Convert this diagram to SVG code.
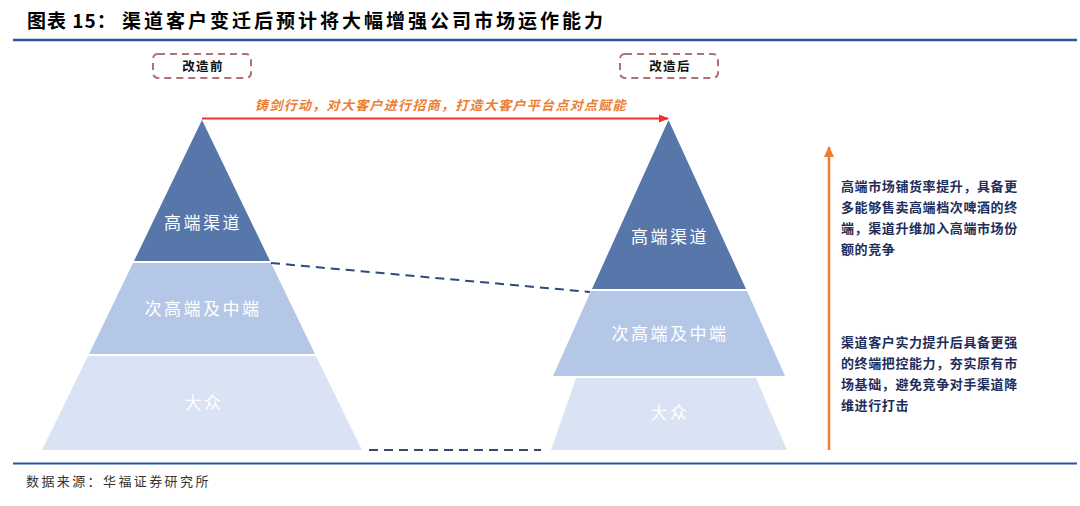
<svg xmlns="http://www.w3.org/2000/svg" width="1080" height="506" viewBox="0 0 1080 506">
<style>
.title{font-family:"Noto Sans CJK SC","Liberation Sans",sans-serif;font-weight:bold;font-size:19px;fill:#000}
.lbl{font-family:"Noto Sans CJK SC",sans-serif;font-size:17px;fill:#fff;text-anchor:middle;letter-spacing:2.5px}
.tag{font-family:"Noto Sans CJK SC",sans-serif;font-weight:bold;font-size:12.5px;fill:#111;text-anchor:middle;letter-spacing:1.4px}
.note{font-family:"Noto Sans CJK SC",sans-serif;font-weight:bold;font-size:13px;fill:#1f2d5a;letter-spacing:0.6px}
.src{font-family:"Noto Sans CJK SC",sans-serif;font-size:13px;fill:#333;letter-spacing:2.4px}
.box{fill:none;stroke:#b07272;stroke-width:2;stroke-dasharray:7 5}
.dash{fill:none;stroke:#2f4a7f;stroke-width:2;stroke-dasharray:9 6}
.t1{fill:#5776a9}.t2{fill:#b4c7e6}.t3{fill:#dae3f3}
</style>
<defs>
<marker id="redHead" markerWidth="10" markerHeight="10" refX="9" refY="5" orient="auto" markerUnits="userSpaceOnUse">
<path d="M0,1 L10,5 L0,9 Z" fill="#f03030"/>
</marker>
<marker id="orHead" markerWidth="12" markerHeight="12" refX="10" refY="6" orient="auto" markerUnits="userSpaceOnUse">
<path d="M0,1 L11,6 L0,11 Z" fill="#ed7d31"/>
</marker>
</defs>
<rect width="1080" height="506" fill="#fff"/>
<g id="header">
<text class="title" x="27" y="28" letter-spacing="1">图表 15：</text>
<text class="title" x="122" y="28" letter-spacing="3">渠道客户变迁后预计将大幅增强公司市场运作能力</text>
<line x1="13" y1="40" x2="1077" y2="40" stroke="#2356a0" stroke-width="2.5"/>
</g>
<g id="tag-before">
<rect class="box" x="153" y="54" width="98" height="24" rx="5"/>
<text class="tag" x="203" y="71">改造前</text>
</g>
<g id="tag-after">
<rect class="box" x="620" y="54" width="98" height="24" rx="5"/>
<text class="tag" x="670" y="71">改造后</text>
</g>
<g id="left-top">
<polygon class="t1" points="202,120 270,261 134,261"/>
<text class="lbl" x="203" y="229">高端渠道</text>
</g>
<g id="left-mid">
<polygon class="t2" points="133,263 271,263 315,354 89,354"/>
<text class="lbl" x="203" y="315">次高端及中端</text>
</g>
<g id="left-bottom">
<polygon class="t3" points="88,356 316,356 362,450 42,450"/>
<text class="lbl" x="204" y="409">大众</text>
</g>
<g id="right-top">
<polygon class="t1" points="668.5,120 746,289 592,289"/>
<text class="lbl" x="670" y="243">高端渠道</text>
</g>
<g id="right-mid">
<polygon class="t2" points="591,291 747,291 785,376 553,376"/>
<text class="lbl" x="670" y="340">次高端及中端</text>
</g>
<g id="right-bottom">
<polygon class="t3" points="576,378 756,378 787,450 551,450"/>
<text class="lbl" x="670" y="419">大众</text>
</g>
<g id="note-top">
<text class="note" x="841" y="191">高端市场铺货率提升，具备更</text>
<text class="note" x="841" y="212">多能够售卖高端档次啤酒的终</text>
<text class="note" x="841" y="233">端，渠道升维加入高端市场份</text>
<text class="note" x="841" y="254">额的竞争</text>
</g>
<g id="note-bottom">
<text class="note" x="841" y="347">渠道客户实力提升后具备更强</text>
<text class="note" x="841" y="368">的终端把控能力，夯实原有市</text>
<text class="note" x="841" y="389">场基础，避免竞争对手渠道降</text>
<text class="note" x="841" y="410">维进行打击</text>
</g>
<g id="connectors">
<line x1="202" y1="118.5" x2="668" y2="118.5" stroke="#f03030" stroke-width="2" marker-end="url(#redHead)"/>
<text x="441" y="110" text-anchor="middle" font-family="Noto Sans CJK SC, sans-serif" font-size="13" font-weight="bold" font-style="italic" fill="#ed7d31" letter-spacing="1.3">铸剑行动，对大客户进行招商，打造大客户平台点对点赋能</text>
<line class="dash" x1="271" y1="263" x2="590" y2="292"/>
<line class="dash" x1="369" y1="450" x2="541" y2="450"/>
<line x1="829" y1="450" x2="829" y2="147" stroke="#ed7d31" stroke-width="2.5" marker-end="url(#orHead)"/>
</g>
<g id="footer">
<line x1="13" y1="463.5" x2="1077" y2="463.5" stroke="#2356a0" stroke-width="2"/>
<text class="src" x="26" y="486">数据来源：华福证券研究所</text>
</g>
</svg>
